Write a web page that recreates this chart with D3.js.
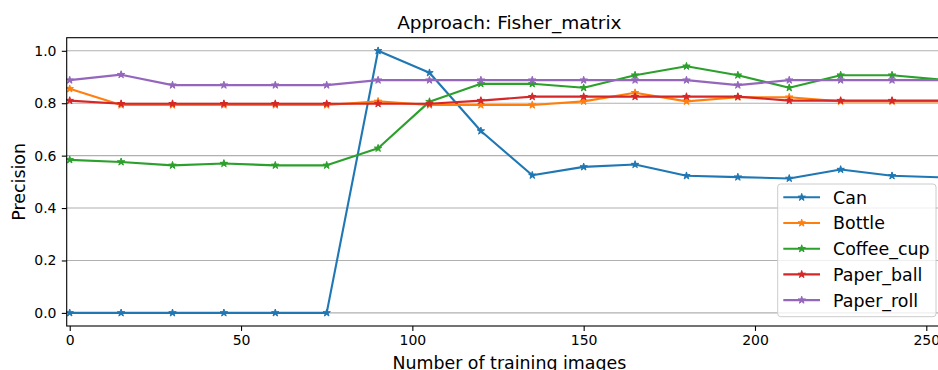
<!DOCTYPE html>
<html>
<head>
<meta charset="utf-8">
<script src="https://cdn.jsdelivr.net/npm/d3@7"></script>
<style>
  body { margin: 0; background: #fff; }
  svg { display: block; font-family: "DejaVu Sans", sans-serif; }
</style>
</head>
<body>
<div id="chart"></div>
<script>
// training image counts
var images = [0, 15, 30, 45, 60, 75, 90, 105, 120, 135, 150, 165, 180, 195, 210, 225, 240, 255];

var can = [0, 0, 0, 0, 0, 0, 1.0, 0.916, 0.694, 0.525, 0.557, 0.566, 0.523, 0.518, 0.513, 0.547, 0.523, 0.517];
var bottle = [0.855, 0.793, 0.793, 0.793, 0.793, 0.793, 0.807, 0.793, 0.793, 0.793, 0.807, 0.84, 0.807, 0.823, 0.823, 0.807, 0.807, 0.807];
var coffeeCup = [0.584, 0.576, 0.563, 0.57, 0.563, 0.563, 0.628, 0.806, 0.874, 0.874, 0.859, 0.907, 0.941, 0.907, 0.859, 0.907, 0.907, 0.889];
var paperBall = [0.81, 0.798, 0.798, 0.798, 0.798, 0.798, 0.798, 0.798, 0.81, 0.825, 0.825, 0.825, 0.825, 0.825, 0.81, 0.81, 0.81, 0.81];
var paperRoll = [0.888, 0.909, 0.869, 0.869, 0.869, 0.869, 0.888, 0.888, 0.888, 0.888, 0.888, 0.888, 0.888, 0.869, 0.888, 0.888, 0.888, 0.888];

var seriesNames = ["Can", "Bottle", "Coffee_cup", "Paper_ball", "Paper_roll"];
var seriesValues = [can, bottle, coffeeCup, paperBall, paperRoll];
var colors = ["#1f77b4", "#ff7f0e", "#2ca02c", "#d62728", "#9467bd"];

var xTicks = [0, 50, 100, 150, 200, 250];
var yTicks = [0.0, 0.2, 0.4, 0.6, 0.8, 1.0];

var svgWidth = 938, svgHeight = 370;
var margin = { top: 37.7, left: 66.7 };
var width = 952 - margin.left;     // plot runs past the right edge of the picture
var height = 326 - margin.top;

var svg = d3.select("#chart").append("svg")
  .attr("width", svgWidth)
  .attr("height", svgHeight);

var g = svg.append("g")
  .attr("transform", `translate(${margin.left}, ${margin.top})`);

var x = d3.scaleLinear().domain([-0.88, 257.5]).range([0, width]);
var y = d3.scaleLinear().domain([-0.05, 1.05]).range([height, 0]);

// horizontal grid
g.append("g")
  .selectAll("line")
  .data(yTicks)
  .enter()
  .append("line")
  .attr("x1", 0)
  .attr("x2", width)
  .attr("y1", d => y(d))
  .attr("y2", d => y(d))
  .attr("stroke", "#b0b0b0")
  .attr("stroke-width", 1.1);

// axes
var xAxis = g.append("g")
  .attr("transform", `translate(0, ${height})`)
  .call(d3.axisBottom(x).tickValues(xTicks).tickFormat(d3.format("d")).tickSizeOuter(0).tickSize(4.9).tickPadding(4.6));

var yAxis = g.append("g")
  .call(d3.axisLeft(y).tickValues(yTicks).tickFormat(d3.format(".1f")).tickSizeOuter(0).tickSize(4.9).tickPadding(5.3));

[xAxis, yAxis].forEach(function(ax) {
  ax.select(".domain").remove();
  ax.selectAll("line").attr("stroke", "#000").attr("stroke-width", 1.1);
  ax.selectAll("text").attr("fill", "#000").style("font-size", "14px").style("font-family", "DejaVu Sans");
});

// lines and star markers
var line = d3.line()
  .x((d, i) => x(images[i]))
  .y(d => y(d));

var star = d3.symbol().type(d3.symbolStar).size(17);

seriesValues.forEach(function(vals, k) {
  g.append("path")
    .datum(vals)
    .attr("d", line)
    .attr("fill", "none")
    .attr("stroke", colors[k])
    .attr("stroke-width", 2.1)
    .attr("stroke-linejoin", "round");

  g.selectAll(null)
    .data(vals)
    .enter()
    .append("path")
    .attr("d", star)
    .attr("transform", (d, i) => `translate(${x(images[i])}, ${y(d)})`)
    .attr("fill", colors[k])
    .attr("stroke", colors[k])
    .attr("stroke-width", 1);
});

// spines
g.append("rect")
  .attr("x", 0)
  .attr("y", 0)
  .attr("width", width)
  .attr("height", height)
  .attr("fill", "none")
  .attr("stroke", "#000")
  .attr("stroke-width", 1.1);

// title and axis labels
svg.append("text")
  .attr("x", margin.left + width / 2)
  .attr("y", 29.3)
  .attr("text-anchor", "middle")
  .style("font-size", "18.5px")
  .text("Approach: Fisher_matrix");

svg.append("text")
  .attr("x", margin.left + width / 2)
  .attr("y", 369.4)
  .attr("text-anchor", "middle")
  .style("font-size", "17.4px")
  .text("Number of training images");

svg.append("text")
  .attr("transform", `translate(25, ${margin.top + height / 2}) rotate(-90)`)
  .attr("text-anchor", "middle")
  .style("font-size", "17.4px")
  .text("Precision");

// legend
var legend = svg.append("g").attr("transform", "translate(777.7, 184)");

legend.append("rect")
  .attr("width", 158.3)
  .attr("height", 132.7)
  .attr("rx", 3)
  .attr("fill", "#fff")
  .attr("fill-opacity", 0.8)
  .attr("stroke", "#cccccc")
  .attr("stroke-width", 1);

var items = legend.selectAll("g.item")
  .data(seriesNames)
  .enter()
  .append("g")
  .attr("class", "item")
  .attr("transform", (d, i) => `translate(0, ${13.3 + i * 25.7})`);

items.append("line")
  .attr("x1", 5.6)
  .attr("x2", 42.3)
  .attr("stroke", (d, i) => colors[i])
  .attr("stroke-width", 2.1);

items.append("path")
  .attr("d", star)
  .attr("transform", "translate(24, 0)")
  .attr("fill", (d, i) => colors[i])
  .attr("stroke", (d, i) => colors[i]);

items.append("text")
  .attr("x", 55.4)
  .attr("dy", "0.37em")
  .style("font-size", "17.4px")
  .text(d => d);
</script>
</body>
</html>
